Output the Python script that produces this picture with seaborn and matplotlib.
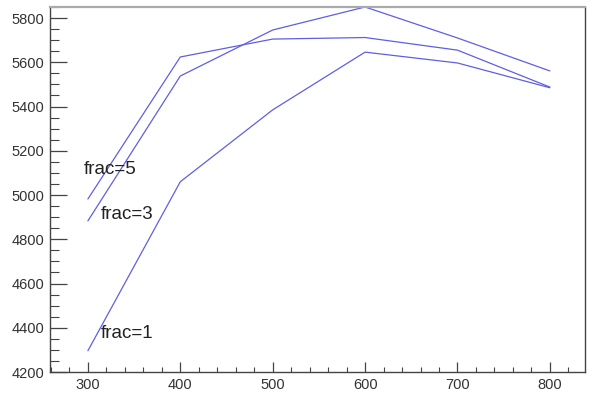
import matplotlib
matplotlib.use("Agg")
import matplotlib.pyplot as plt
import seaborn as sns
import pandas as pd
from matplotlib.ticker import MultipleLocator

# Scan results for three values of frac
energies = [300, 400, 500, 600, 700, 800]
frac5 = [4982, 5624, 5705, 5712, 5655, 5488]
frac3 = [4883, 5538, 5746, 5850, 5710, 5561]
frac1 = [4296, 5060, 5385, 5646, 5597, 5485]
series_names = ["frac=5", "frac=3", "frac=1"]
label_x = [295, 314, 314]
label_y = [5117, 4914, 4373]

df = pd.concat([
    pd.DataFrame({"x": energies, "y": vals, "series": name})
    for name, vals in zip(series_names, [frac5, frac3, frac1])
])

sns.set_style("ticks")
plt.rcParams["font.family"] = ["Liberation Sans", "DejaVu Sans"]

fig = plt.figure(figsize=(5.9, 3.96), dpi=100)
ax = fig.add_axes([50 / 590, 1 - 372 / 396, 535 / 590, 365 / 396])

line_color = "#5f5fe2"
sns.lineplot(data=df, x="x", y="y", hue="series", units="series", estimator=None,
             palette={n: line_color for n in series_names}, linewidth=0.9,
             legend=False, ax=ax, sort=False)

for name, lx, ly in zip(series_names, label_x, label_y):
    ax.text(lx, ly, name, fontsize=13.5, color="#222222", ha="left", va="center")

ax.set_xlim(259, 838)
ax.set_ylim(4200, 5850)
ax.set_xlabel("")
ax.set_ylabel("")

ax.xaxis.set_major_locator(MultipleLocator(100))
ax.xaxis.set_minor_locator(MultipleLocator(20))
ax.yaxis.set_major_locator(MultipleLocator(200))
ax.yaxis.set_minor_locator(MultipleLocator(50))

ax.tick_params(axis="x", which="major", direction="in", length=7, width=0.9,
               color="#444444", labelsize=10.5, labelcolor="#333333", pad=4)
ax.tick_params(axis="x", which="minor", direction="in", length=3.5, width=0.8,
               color="#444444")
ax.tick_params(axis="y", which="major", direction="in", length=12, width=0.9,
               color="#444444", labelsize=10.5, labelcolor="#333333", pad=4)
ax.tick_params(axis="y", which="minor", direction="in", length=6.5, width=0.8,
               color="#444444")

for side in ["left", "bottom", "right"]:
    ax.spines[side].set_color("#444444")
    ax.spines[side].set_linewidth(1.0)
ax.spines["top"].set_color("#aaaaaa")
ax.spines["top"].set_linewidth(1.6)

fig.savefig("out.png", dpi=100)
